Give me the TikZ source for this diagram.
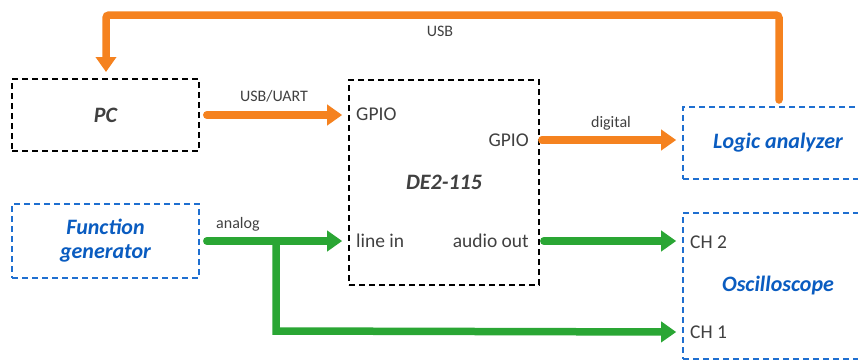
\documentclass[tikz,border=0pt]{standalone}
\usepackage{fontspec}
\setmainfont{Carlito}
\usetikzlibrary{arrows.meta}
\definecolor{txtgray}{HTML}{404040}
\definecolor{boxblue}{HTML}{1F6FD0}
\definecolor{txtblue}{HTML}{0A5CC0}
\definecolor{orng}{HTML}{F5821F}
\definecolor{grn}{HTML}{2AA634}
\tikzset{
  blk/.style={draw=black, dashed, dash pattern=on 6pt off 4pt, line width=1.6pt, inner sep=0pt, font=\fontsize{22}{24}\selectfont\bfseries\itshape, text=txtgray},
  bblk/.style={blk, draw=boxblue, text=txtblue, align=center, font=\fontsize{22}{24}\selectfont\bfseries\itshape},
  port/.style={font=\fontsize{19.5}{22}\selectfont, text=txtgray, inner sep=0pt},
  lbl/.style={font=\fontsize{16}{19}\selectfont, text=txtgray, inner sep=0pt},
  wire/.style={line width=7.5pt, line cap=round, -{Triangle[width=20pt,length=15pt]}},
  owire/.style={wire, draw=orng},
  gwire/.style={wire, draw=grn}
}
\begin{document}
\begin{tikzpicture}[x=1pt,y=-1pt]
\useasboundingbox (0,0) rectangle (858,360);
\node[blk, minimum width=187pt, minimum height=72pt] (pc) at (105.5,115) {PC};
\node[blk, minimum width=190pt, minimum height=205pt] (de) at (444,182.5) {DE2-115};
\node[bblk, minimum width=187pt, minimum height=74pt] (fg) at (105.5,241) {Function\\generator};
\node[bblk, minimum width=190pt, minimum height=72pt] (la) at (778,143) {Logic analyzer};
\node[bblk, minimum width=190pt, minimum height=146pt] (osc) at (778,286) {Oscilloscope};
% ports
\node[port, anchor=west] (g1) at (356,114) {GPIO};
\node[port, anchor=east] (g2) at (529,140) {GPIO};
\node[port, anchor=west] (li) at (356,241) {line in};
\node[port, anchor=east] (ao) at (529,241) {audio out};
\node[port, anchor=west] (c2) at (690,242) {CH 2};
\node[port, anchor=west] (c1) at (690,332) {CH 1};
% connectors
\coordinate (usbs) at (779,100);
\coordinate (usbe) at (106,72);
\draw[owire, rounded corners=3pt] (usbs) -- (779,15) -- (106,15) -- (usbe);
\node[lbl] (usbl) at (440,31) {USB};
\draw[owire, shorten <=7pt, shorten >=6pt] (pc.east) -- (de.west |- pc.east) node[lbl, midway, above=9pt] (ul) {USB/UART};
\draw[owire, shorten <=2pt, shorten >=6pt] (de.east |- g2) -- (la.west |- g2) node[lbl, midway, above=6pt] (dl) {digital};
\draw[gwire, shorten <=7pt, shorten >=6pt] (fg.east) -- (de.west |- fg.east);
\node[lbl, anchor=west] (anl) at (216,224) {analog};
\coordinate (br) at (276,241);
\draw[gwire, shorten >=6pt, line cap=butt] (br) -- (276,331) -- (osc.west |- c1);
\draw[gwire, shorten <=4pt, shorten >=6pt] (de.east |- ao) -- (osc.west |- ao);
\end{tikzpicture}
\end{document}
